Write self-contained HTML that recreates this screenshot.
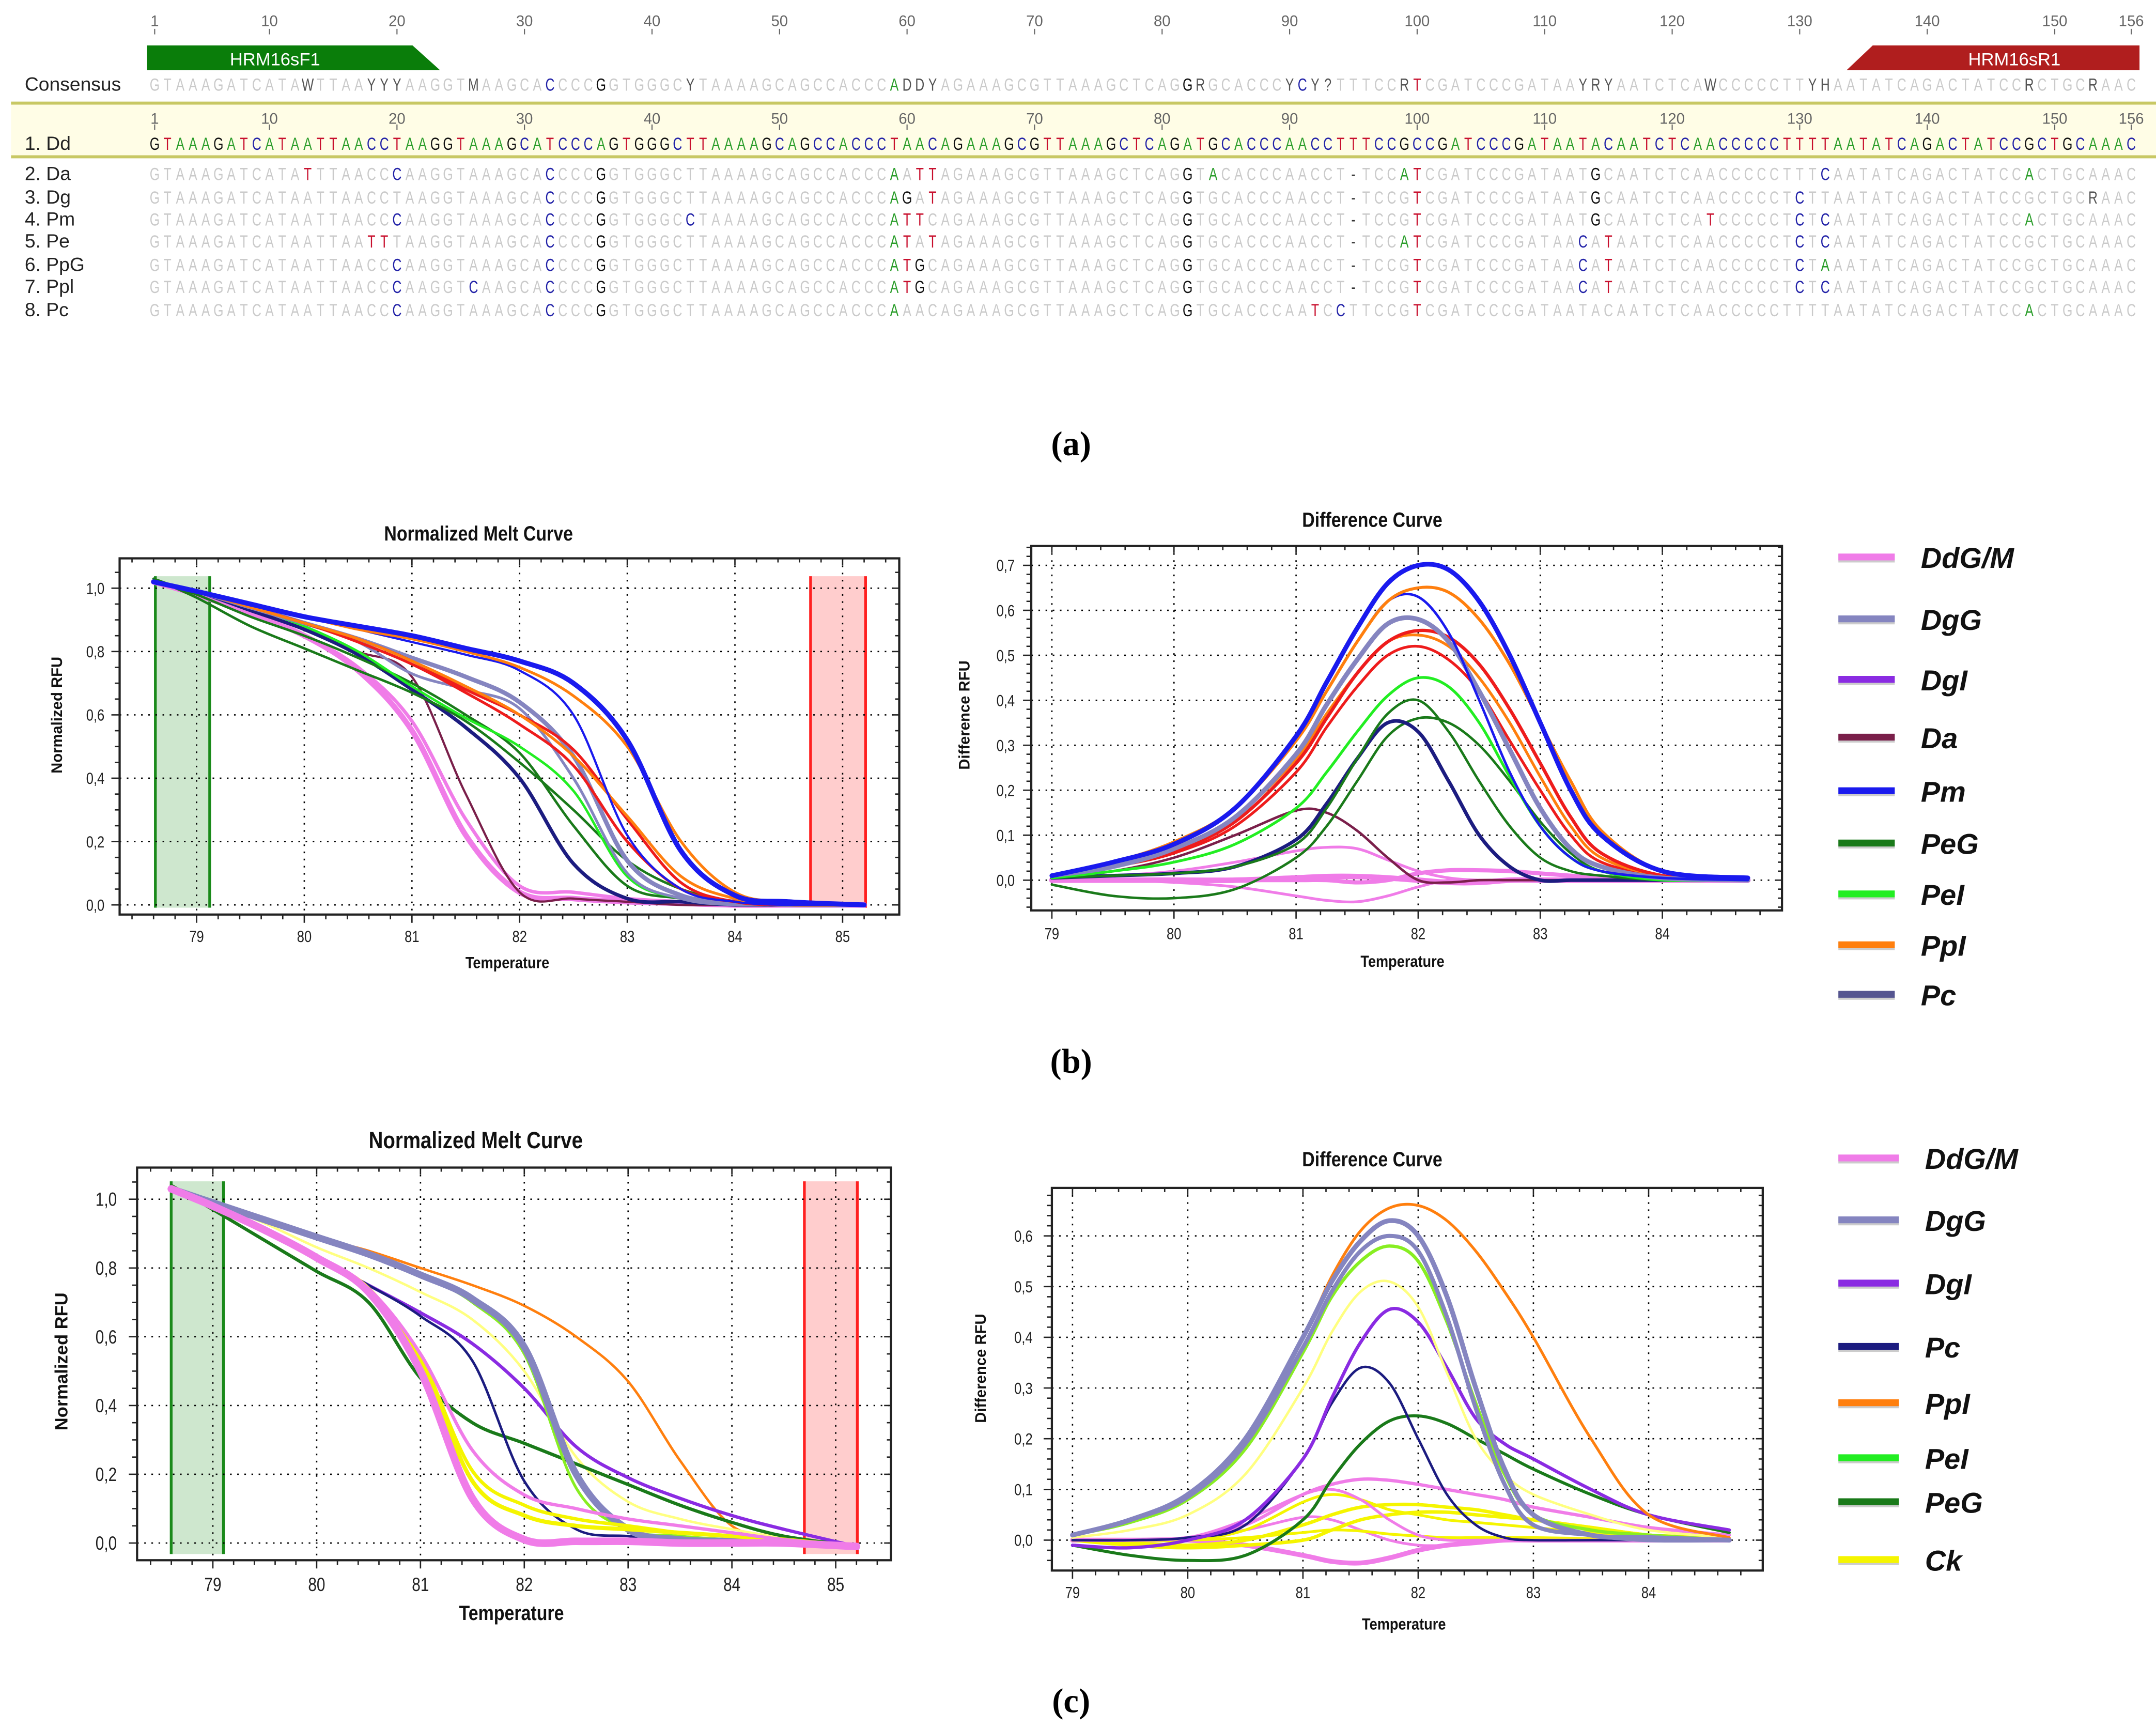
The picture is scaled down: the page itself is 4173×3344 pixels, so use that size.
<!DOCTYPE html>
<html><head><meta charset="utf-8">
<style>
html,body{margin:0;padding:0;background:#fff;}
svg{display:block;}
text{font-family:"Liberation Sans",sans-serif;}
</style></head>
<body>
<svg id="root" xmlns="http://www.w3.org/2000/svg" width="4173" height="3344" viewBox="0 0 1568 1256.5" preserveAspectRatio="none">
<rect x="0" y="0" width="1568" height="1257" fill="#fff"/>
<g id="panelA"></g>
<g id="chartB1"></g>
<g id="chartB2"></g>
<g id="chartC1"></g>
<g id="chartC2"></g>
<g id="legB"></g>
<g id="legC"></g>
<text x="779" y="331" text-anchor="middle" style="font-family:'Liberation Serif',serif;font-size:25px;font-weight:bold">(a)</text>
<text x="779" y="780" text-anchor="middle" style="font-family:'Liberation Serif',serif;font-size:25px;font-weight:bold">(b)</text>
<text x="779" y="1245" text-anchor="middle" style="font-family:'Liberation Serif',serif;font-size:25px;font-weight:bold">(c)</text>
</svg>
<script>
// ---------- Alignment data ----------
const refSeq = "GTAAAGATCATAATTAACCTAAGGTAAAGCATCCCAGTGGGCTTAAAAGCAGCCACCCTAACAGAAAGCGTTAAAGCTCAGATGCACCCAACCTTTCCGCCGATCCCGATAATACAATCTCAACCCCCTTTTAATATCAGACTATCCGCTGCAAAC";
const rulerTicks = [1,10,20,30,40,50,60,70,80,90,100,110,120,130,140,150,156];
const consensusDiffs = "13W,18Y,19Y,20Y,26M,32C,36G,43Y,59A,60D,61D,62Y,82G,83R,90Y,91C,92Y,93?,99R,100T,113Y,114R,115Y,123W,131Y,132H,148R,153R";
const rowNames = ["2. Da","3. Dg","4. Pm","5. Pe","6. PpG","7. Ppl","8. Pc"];
const rowDiffs = [
 "13T,20C,32C,36G,59A,61T,62T,82G,84A,95-,99A,100T,114G,132C,148A",
 "32C,36G,59A,60G,62T,82G,95-,100T,114G,130C,153R",
 "20C,32C,36G,43C,59A,60T,61T,82G,95-,100T,114G,123T,130C,132C,148A",
 "18T,19T,32C,36G,59A,60T,62T,82G,95-,99A,100T,113C,115T,130C,132C",
 "20C,32C,36G,59A,60T,61G,82G,95-,100T,113C,115T,130C,132A",
 "20C,26C,32C,36G,59A,60T,61G,82G,95-,100T,113C,115T,130C,132C",
 "20C,32C,36G,59A,82G,92T,94C,100T,148A"
];

// ---------- Chart b data ----------
const meltTempsB = [78.6,79,79.5,80,80.5,81,81.5,82,82.5,83,83.5,84,84.5,85.2];
const meltB_Pm1 = [1.02,0.99,0.95,0.91,0.88,0.85,0.81,0.77,0.70,0.52,0.17,0.03,0.01,0.0];
const meltB_Pm2 = [1.02,0.99,0.95,0.91,0.87,0.83,0.79,0.74,0.60,0.22,0.05,0.01,0,0];
const meltB_PpI1 = [1.02,0.99,0.95,0.91,0.87,0.84,0.80,0.75,0.66,0.50,0.20,0.04,0.01,0];
const meltB_PpI2 = [1.02,0.99,0.94,0.89,0.84,0.77,0.69,0.60,0.47,0.28,0.09,0.02,0,0];
const meltB_Red1 = [1.02,0.99,0.94,0.89,0.84,0.77,0.68,0.60,0.49,0.27,0.07,0.01,0,0];
const meltB_Red2 = [1.02,0.99,0.94,0.89,0.83,0.76,0.67,0.57,0.44,0.20,0.05,0.01,0,0];
const meltB_DgG1 = [1.02,0.99,0.94,0.89,0.84,0.78,0.72,0.64,0.47,0.14,0.03,0.01,0,0];
const meltB_DgG2 = [1.02,0.99,0.94,0.89,0.83,0.73,0.68,0.62,0.40,0.10,0.02,0,0,0];
const meltB_PeI = [1.02,0.99,0.94,0.88,0.80,0.69,0.59,0.50,0.36,0.09,0.02,0,0,0];
const meltB_PeG1 = [1.03,0.97,0.88,0.81,0.74,0.67,0.58,0.45,0.30,0.14,0.05,0.01,0,0];
const meltB_PeG2 = [1.03,0.98,0.91,0.85,0.78,0.70,0.60,0.48,0.25,0.06,0.02,0,0,0];
const meltB_Pc = [1.02,0.99,0.93,0.87,0.79,0.68,0.56,0.40,0.13,0.02,0.01,0,0,0];
const meltB_Da = [1.02,0.99,0.93,0.87,0.80,0.72,0.35,0.04,0.02,0.01,0,0,0,0];
const meltB_Pink1 = [1.02,0.98,0.92,0.85,0.74,0.55,0.22,0.04,0.02,0.01,0.005,0,0,0];
const meltB_Pink2 = [1.02,0.98,0.92,0.85,0.75,0.58,0.27,0.06,0.04,0.02,0.01,0,0,0];

const diffTempsB = [79,79.5,80,80.5,81,81.25,81.5,81.75,82,82.25,82.5,82.75,83,83.25,83.5,84,84.7];
const diffB_Pm1 = [0.01,0.04,0.08,0.16,0.32,0.44,0.56,0.66,0.70,0.69,0.62,0.50,0.35,0.20,0.10,0.02,0.005];
const diffB_Pm2 = [0.01,0.04,0.08,0.16,0.31,0.42,0.53,0.62,0.63,0.55,0.40,0.24,0.12,0.05,0.02,0.005,0];
const diffB_PpI1 = [0.01,0.04,0.085,0.16,0.31,0.42,0.53,0.62,0.65,0.64,0.58,0.48,0.35,0.22,0.11,0.02,0.005];
const diffB_PpI2 = [0.01,0.035,0.07,0.14,0.27,0.37,0.46,0.53,0.545,0.52,0.45,0.35,0.23,0.12,0.05,0.01,0];
const diffB_Red1 = [0.01,0.03,0.065,0.13,0.26,0.36,0.46,0.53,0.555,0.54,0.48,0.38,0.26,0.14,0.06,0.01,0];
const diffB_Red2 = [0.01,0.03,0.06,0.12,0.24,0.34,0.43,0.50,0.52,0.49,0.42,0.31,0.20,0.10,0.04,0.01,0];
const diffB_DgG = [0.01,0.03,0.07,0.14,0.28,0.39,0.49,0.57,0.58,0.53,0.42,0.29,0.16,0.07,0.03,0.005,0];
const diffB_PeI = [0.005,0.02,0.04,0.08,0.16,0.24,0.33,0.41,0.45,0.43,0.35,0.23,0.12,0.05,0.02,0,0];
const diffB_PeG1 = [0.005,0.01,0.015,0.03,0.08,0.16,0.27,0.37,0.40,0.33,0.22,0.12,0.05,0.02,0.01,0,0];
const diffB_PeG2 = [-0.01,-0.035,-0.04,-0.02,0.05,0.12,0.22,0.32,0.36,0.35,0.30,0.22,0.13,0.06,0.02,0,0];
const diffB_Pc = [0.005,0.01,0.015,0.03,0.09,0.17,0.27,0.35,0.33,0.22,0.10,0.03,0.0,0,0,0,0];
const diffB_Da = [0.005,0.02,0.05,0.10,0.155,0.15,0.11,0.05,0.0,-0.005,0,0,0,0,0,0,0];
const diffB_Pink1 = [0.005,0.01,0.02,0.04,0.065,0.073,0.07,0.045,0.02,0.005,0,0,0,0,0,0,0];
const diffB_Pink2 = [0,0,-0.005,-0.015,-0.035,-0.045,-0.048,-0.035,-0.015,0,0,0,0,0,0,0,0];
const diffB_Pink3 = [0,0,0,0,0,0,-0.005,0,0.015,0.022,0.022,0.02,0.015,0.01,0.005,0,0];
const diffB_Pink4 = [0,0,0,0,0.005,0.008,0.008,0.005,0,-0.005,-0.005,0,0,0,0,0,0];

// ---------- Chart c data ----------
const meltTempsC = [78.6,79,79.5,80,80.5,81,81.5,82,82.5,83,83.5,84,84.5,85.2];
const meltC_PpI = [1.03,0.99,0.94,0.89,0.85,0.80,0.75,0.69,0.60,0.47,0.24,0.05,0.02,-0.01];
const meltC_DgG = [1.03,0.99,0.94,0.89,0.84,0.78,0.71,0.57,0.20,0.04,0.01,0.005,0,-0.01];
const meltC_PeI = [1.03,0.99,0.94,0.89,0.84,0.78,0.70,0.55,0.16,0.04,0.02,0.01,0.005,-0.01];
const meltC_Ck1 = [1.03,0.99,0.93,0.86,0.80,0.73,0.65,0.50,0.25,0.12,0.07,0.04,0.015,-0.01];
const meltC_DgI = [1.03,0.98,0.91,0.83,0.75,0.67,0.58,0.45,0.28,0.19,0.13,0.08,0.04,-0.01];
const meltC_Pc = [1.03,0.98,0.91,0.83,0.75,0.66,0.53,0.18,0.04,0.02,0.01,0.005,0,-0.01];
const meltC_PeG = [1.04,0.97,0.88,0.79,0.70,0.48,0.35,0.29,0.23,0.17,0.11,0.06,0.02,-0.01];
const meltC_Pink1 = [1.03,0.98,0.91,0.83,0.73,0.50,0.13,0.01,0.005,0.005,0,0,0,-0.01];
const meltC_Pink2 = [1.03,0.98,0.91,0.83,0.74,0.55,0.27,0.14,0.10,0.07,0.05,0.03,0.01,-0.01];
const meltC_Ck2 = [1.03,0.98,0.91,0.83,0.74,0.53,0.18,0.08,0.05,0.04,0.03,0.02,0.01,-0.01];
const meltC_Ck3 = [1.03,0.98,0.91,0.83,0.74,0.54,0.21,0.11,0.07,0.05,0.03,0.02,0.01,-0.01];

const diffTempsC = [79,79.5,80,80.5,81,81.25,81.5,81.75,82,82.25,82.5,82.75,83,83.5,84,84.7];
const diffC_PpI = [0.01,0.04,0.09,0.20,0.40,0.52,0.61,0.655,0.66,0.63,0.57,0.49,0.40,0.20,0.05,0.005];
const diffC_DgG1 = [0.01,0.04,0.09,0.20,0.40,0.51,0.59,0.63,0.60,0.48,0.30,0.14,0.05,0.01,0.005,0];
const diffC_DgG2 = [0.01,0.04,0.085,0.19,0.38,0.49,0.57,0.60,0.57,0.44,0.26,0.11,0.03,0.01,0,0];
const diffC_PeI = [0.01,0.035,0.08,0.18,0.37,0.48,0.55,0.58,0.55,0.43,0.27,0.13,0.05,0.02,0.01,0];
const diffC_Ck1 = [0.005,0.02,0.05,0.13,0.30,0.41,0.49,0.51,0.46,0.33,0.20,0.13,0.09,0.05,0.02,0.005];
const diffC_DgI = [-0.01,-0.015,0.0,0.04,0.16,0.28,0.39,0.455,0.43,0.34,0.24,0.19,0.16,0.10,0.05,0.02];
const diffC_Pc = [0.0,0.0,0.005,0.03,0.16,0.27,0.34,0.31,0.20,0.09,0.03,0.005,0,0,0,0];
const diffC_PeG = [-0.01,-0.03,-0.04,-0.03,0.04,0.12,0.19,0.235,0.245,0.23,0.20,0.17,0.14,0.09,0.05,0.015];
const diffC_Pink1 = [0,0,0.005,0.03,0.09,0.11,0.12,0.118,0.11,0.10,0.09,0.08,0.065,0.045,0.025,0.01];
const diffC_Pink2 = [0,0,0.005,0.04,0.09,0.10,0.08,0.04,0.01,0,0,0,0,0,0,0];
const diffC_Pink3 = [0,0,0,-0.01,-0.03,-0.042,-0.045,-0.035,-0.02,-0.01,-0.005,0,0,0,0,0];
const diffC_Pink4 = [0,0,0.005,0.02,0.045,0.04,0.02,0.0,-0.01,-0.01,-0.005,0,0,0,0,0];
const diffC_Ck2 = [0,0,0,0.02,0.075,0.09,0.08,0.06,0.05,0.04,0.035,0.03,0.025,0.015,0.01,0.005];
const diffC_Ck3 = [0,-0.005,-0.01,0,0.03,0.05,0.065,0.07,0.07,0.065,0.06,0.05,0.04,0.025,0.01,0];
const diffC_Ck4 = [0,-0.01,-0.015,-0.01,0.0,0.02,0.04,0.05,0.055,0.055,0.05,0.045,0.04,0.025,0.01,0];
const diffC_Ck5 = [0,0,0,0.005,0.015,0.02,0.018,0.012,0.008,0.005,0.005,0.005,0.005,0.003,0,0];

const legendLabelsB = ["DdG/M","DgG","DgI","Da","Pm","PeG","PeI","PpI","Pc"];
const legendLabelsC = ["DdG/M","DgG","DgI","Pc","PpI","PeI","PeG","Ck"];

// ---------- helpers ----------
const NS = "http://www.w3.org/2000/svg";
const COL = {pink:"#f07ce8",dgg:"#8585c0",dgi:"#8a2be2",da:"#7a1f4a",pm:"#1a1aee",peg:"#1a7a1a",pei:"#22ee22",ppi:"#ff7f0e",pc:"#1c1c80",red:"#ee1c1c",ck:"#f5f500",ckl:"#ffff80"};
function mk(tag, attrs, parent){
  const e = document.createElementNS(NS, tag);
  for (const k in attrs) e.setAttribute(k, attrs[k]);
  parent.appendChild(e);
  return e;
}
function smoothPath(pts){
  let d = "M" + pts[0][0].toFixed(2) + "," + pts[0][1].toFixed(2);
  for (let i=0;i<pts.length-1;i++){
    const p0 = pts[i-1]||pts[i], p1 = pts[i], p2 = pts[i+1], p3 = pts[i+2]||p2;
    const c1x = p1[0]+(p2[0]-p0[0])/6, c1y = p1[1]+(p2[1]-p0[1])/6;
    const c2x = p2[0]-(p3[0]-p1[0])/6, c2y = p2[1]-(p3[1]-p1[1])/6;
    d += " C"+c1x.toFixed(2)+","+c1y.toFixed(2)+" "+c2x.toFixed(2)+","+c2y.toFixed(2)+" "+p2[0].toFixed(2)+","+p2[1].toFixed(2);
  }
  return d;
}

// ---------- alignment ----------
(function(){
  const g = document.getElementById("panelA");
  const x0 = 112.5, dx = (1550-112.5)/155;
  const px = i => x0 + (i-1)*dx;
  const baseCol = {A:"#2a9d2a",T:"#c8102e",C:"#2323a8",G:"#111"};
  function ruler(yNum, yT){
    rulerTicks.forEach(n=>{
      const t = mk("text",{x:px(n),y:yNum,"text-anchor":"middle","font-size":"11",fill:"#666"},g);
      t.textContent = n;
      
      
      mk("line",{x1:px(n),x2:px(n),y1:yT,y2:yT+4,stroke:"#666","stroke-width":"0.8"},g);
    });
  }
  ruler(19, 21);
  // primers
  const pf = mk("polygon",{points:"107,33 300,33 320,51 107,51",fill:"#0a7d0a"},g);
  
  
  const pft = mk("text",{x:200,y:47.5,"text-anchor":"middle","font-size":"13",fill:"#fff"},g);
  pft.textContent = "HRM16sF1";
  const pr = mk("polygon",{points:"1362,33 1556,33 1556,51 1343,51",fill:"#b01e1e"},g);
  
  
  const prt = mk("text",{x:1465,y:47.5,"text-anchor":"middle","font-size":"13",fill:"#fff"},g);
  prt.textContent = "HRM16sR1";
  // highlight band
  const band = mk("rect",{x:8,y:75,width:1560,height:39,fill:"#fffde6"},g);
  
  
  mk("line",{x1:8,x2:1568,y1:75,y2:75,stroke:"#c8c864","stroke-width":"2.2"},g);
  mk("line",{x1:8,x2:1568,y1:114,y2:114,stroke:"#c8c864","stroke-width":"2.2"},g);
  ruler(90, 90.5);
  function parseDiffs(s){ const m={}; s.split(",").forEach(t=>{m[parseInt(t)]=t.replace(/^\d+/,"");}); return m; }
  function row(label, y, diffs, mode){
    const lab = mk("text",{x:18,y:y,"font-size":"14",fill:"#222"},g);
    lab.textContent = label;
    
    
    let grey = "", greyX = [];
    for (let i=1;i<=refSeq.length;i++){
      let ch = refSeq[i-1], col = "#cacaca";
      if (mode==="ref"){ col = baseCol[ch]; }
      else if (diffs[i]!==undefined){ ch = diffs[i]; col = baseCol[ch] || "#555"; if (ch==="-") col="#333"; }
      const t = mk("text",{x:px(i).toFixed(2),y:y,"text-anchor":"middle","font-size":"13",fill:col,transform:"translate("+px(i).toFixed(2)+","+y+") scale(0.72,1) translate("+(-px(i)).toFixed(2)+","+(-y)+")"},g);
      t.textContent = ch;
    }
  }
  row("Consensus", 66, parseDiffs(consensusDiffs), "cons");
  row("1. Dd", 109, {}, "ref");
  const ys = [131,148,164,180,197,213,230];
  rowNames.forEach((n,k)=>row(n, ys[k], parseDiffs(rowDiffs[k]), "row"));
})();

// ---------- chart builder ----------
function chart(id, cfg){
  const g = document.getElementById(id);
  const X = t => cfg.x0 + (t - cfg.t0) * cfg.pxPerDeg;
  const Y = v => cfg.yZero - v * cfg.pxPerUnit;
  const L = cfg.frame[0], T = cfg.frame[1], R = cfg.frame[2], B = cfg.frame[3];
  // bands
  if (cfg.bands){
    cfg.bands.forEach(b=>{
      const r = mk("rect",{x:b.x1,y:b.y1,width:b.x2-b.x1,height:b.y2-b.y1,fill:b.fill},g);
      
      
      mk("line",{x1:b.x1,x2:b.x1,y1:b.y1,y2:b.y2,stroke:b.stroke,"stroke-width":"2"},g);
      mk("line",{x1:b.x2,x2:b.x2,y1:b.y1,y2:b.y2,stroke:b.stroke,"stroke-width":"2"},g);
    });
  }
  // grid
  cfg.xTicks.forEach(t=>{
    const l = mk("line",{x1:X(t),x2:X(t),y1:T,y2:B,stroke:"#000","stroke-width":"1","stroke-dasharray":"1.2,4"},g);
    
    
  });
  cfg.yTicks.forEach(v=>{
    const l = mk("line",{x1:L,x2:R,y1:Y(v),y2:Y(v),stroke:"#000","stroke-width":"1","stroke-dasharray":"1.2,4"},g);
    
    
  });
  // series
  cfg.series.forEach(s=>{
    const pts = s.v.map((v,i)=>[X(s.t[i]), Y(v)]);
    const p = mk("path",{d:smoothPath(pts),fill:"none",stroke:s.c,"stroke-width":s.w||1.8,"stroke-linejoin":"round","stroke-linecap":"round"},g);
    
    
  });
  // frame
  const fr = mk("rect",{x:L,y:T,width:R-L,height:B-T,fill:"none",stroke:"#222","stroke-width":"1.6"},g);
  
  
  // minor ticks
  for (let t=Math.ceil((cfg.t0-1)*5)/5; X(t)<R; t+=0.2){
    if (X(t)<=L) continue;
    const major = Math.abs(t-Math.round(t))<0.01;
    const len = major?6:3.5;
    mk("line",{x1:X(t),x2:X(t),y1:B,y2:B+len,stroke:"#222","stroke-width":"1"},g);
    mk("line",{x1:X(t),x2:X(t),y1:T,y2:T+(major?5:3),stroke:"#222","stroke-width":"1"},g);
  }
  for (let v=-0.1; Y(v)>T; v+=cfg.yMinor){
    if (Y(v)>=B) continue;
    const major = cfg.yTicks.some(k=>Math.abs(k-v)<1e-6);
    mk("line",{x1:L-(major?6:3.5),x2:L,y1:Y(v),y2:Y(v),stroke:"#222","stroke-width":"1"},g);
    mk("line",{x1:R-(major?5:3),x2:R,y1:Y(v),y2:Y(v),stroke:"#222","stroke-width":"1"},g);
  }
  // tick labels
  cfg.xTicks.forEach(t=>{
    const tx = mk("text",{x:X(t),y:cfg.xLabY,"text-anchor":"middle","font-size":cfg.fs,fill:"#222",transform:"translate("+X(t)+","+cfg.xLabY+") scale(0.8,1) translate("+(-X(t))+","+(-cfg.xLabY)+")"},g);
    tx.textContent = t;
    
    
  });
  cfg.yTicks.forEach(v=>{
    const ty = Y(v)+cfg.fs*0.35;
    const tx = mk("text",{x:cfg.yLabX,y:ty,"text-anchor":"end","font-size":cfg.fs,fill:"#222",transform:"translate("+cfg.yLabX+","+ty+") scale(0.8,1) translate("+(-cfg.yLabX)+","+(-ty)+")"},g);
    tx.textContent = v.toFixed(1).replace(".",",");
    
    
  });
  // titles
  const tt = mk("text",{x:cfg.title[1],y:cfg.title[2],"text-anchor":"middle","font-size":cfg.title[3],"font-weight":"bold",fill:"#111",transform:"translate("+cfg.title[1]+","+cfg.title[2]+") scale(0.85,1) translate("+(-cfg.title[1])+","+(-cfg.title[2])+")"},g);
  tt.textContent = cfg.title[0];
  
  
  const xt = mk("text",{x:cfg.xTitle[0],y:cfg.xTitle[1],"text-anchor":"middle","font-size":cfg.xTitle[2],"font-weight":"bold",fill:"#111",transform:"translate("+cfg.xTitle[0]+","+cfg.xTitle[1]+") scale(0.85,1) translate("+(-cfg.xTitle[0])+","+(-cfg.xTitle[1])+")"},g);
  xt.textContent = "Temperature";
  
  
  const yt = mk("text",{x:0,y:0,"text-anchor":"middle","font-size":cfg.yTitle[3],"font-weight":"bold",fill:"#111",transform:"translate("+cfg.yTitle[1]+","+cfg.yTitle[2]+") rotate(-90)"},g);
  yt.textContent = cfg.yTitle[0];
  
  
}

// ---------- chart b ----------
chart("chartB1",{
  frame:[87,406,654,665], x0:143, t0:79, pxPerDeg:78.3, yZero:658, pxPerUnit:230.3,
  xTicks:[79,80,81,82,83,84,85], yTicks:[0,0.2,0.4,0.6,0.8,1.0], yMinor:0.05,
  xLabY:685, yLabX:76, fs:12,
  title:["Normalized Melt Curve",348,393,15], xTitle:[369,704,12], yTitle:["Normalized RFU",45,520,11],
  bands:[{x1:113,x2:152.5,y1:419,y2:660,fill:"rgba(60,160,60,0.25)",stroke:"#1a8a1a",name:"start-region"},
         {x1:589.5,x2:629.5,y1:419,y2:660,fill:"rgba(255,90,90,0.3)",stroke:"#ff2020",name:"end-region"}],
  series:[
    {name:"melt-pink-1",t:meltTempsB,v:meltB_Pink1,c:COL.pink,w:4},
    {name:"melt-pink-2",t:meltTempsB,v:meltB_Pink2,c:COL.pink,w:2.5},
    {name:"melt-da",t:meltTempsB,v:meltB_Da,c:COL.da,w:1.6},
    {name:"melt-pc",t:meltTempsB,v:meltB_Pc,c:COL.pc,w:2.6},
    {name:"melt-peg-1",t:meltTempsB,v:meltB_PeG1,c:COL.peg,w:1.8},
    {name:"melt-peg-2",t:meltTempsB,v:meltB_PeG2,c:COL.peg,w:1.8},
    {name:"melt-pei",t:meltTempsB,v:meltB_PeI,c:COL.pei,w:1.8},
    {name:"melt-dgg-1",t:meltTempsB,v:meltB_DgG1,c:COL.dgg,w:3.2},
    {name:"melt-dgg-2",t:meltTempsB,v:meltB_DgG2,c:COL.dgg,w:2},
    {name:"melt-red-1",t:meltTempsB,v:meltB_Red1,c:COL.red,w:2},
    {name:"melt-red-2",t:meltTempsB,v:meltB_Red2,c:COL.red,w:2},
    {name:"melt-ppi-2",t:meltTempsB,v:meltB_PpI2,c:COL.ppi,w:2},
    {name:"melt-pm-2",t:meltTempsB,v:meltB_Pm2,c:COL.pm,w:1.6},
    {name:"melt-ppi-1",t:meltTempsB,v:meltB_PpI1,c:COL.ppi,w:2},
    {name:"melt-pm-1",t:meltTempsB,v:meltB_Pm1,c:COL.pm,w:3.6}
  ]
});
chart("chartB2",{
  frame:[750,397,1296,662], x0:765, t0:79, pxPerDeg:88.8, yZero:640, pxPerUnit:327,
  xTicks:[79,80,81,82,83,84], yTicks:[0,0.1,0.2,0.3,0.4,0.5,0.6,0.7], yMinor:0.02,
  xLabY:683, yLabX:738, fs:12,
  title:["Difference Curve",998,383,15], xTitle:[1020,703,12], yTitle:["Difference RFU",705,520,11],
  series:[
    {name:"diff-pink-2",t:diffTempsB,v:diffB_Pink2,c:COL.pink,w:2},
    {name:"diff-pink-3",t:diffTempsB,v:diffB_Pink3,c:COL.pink,w:3},
    {name:"diff-pink-4",t:diffTempsB,v:diffB_Pink4,c:COL.pink,w:4},
    {name:"diff-pink-1",t:diffTempsB,v:diffB_Pink1,c:COL.pink,w:2},
    {name:"diff-da",t:diffTempsB,v:diffB_Da,c:COL.da,w:1.8},
    {name:"diff-peg-2",t:diffTempsB,v:diffB_PeG2,c:COL.peg,w:1.8},
    {name:"diff-pc",t:diffTempsB,v:diffB_Pc,c:COL.pc,w:2.6},
    {name:"diff-peg-1",t:diffTempsB,v:diffB_PeG1,c:COL.peg,w:1.8},
    {name:"diff-pei",t:diffTempsB,v:diffB_PeI,c:COL.pei,w:2},
    {name:"diff-red-2",t:diffTempsB,v:diffB_Red2,c:COL.red,w:2},
    {name:"diff-ppi-2",t:diffTempsB,v:diffB_PpI2,c:COL.ppi,w:2},
    {name:"diff-red-1",t:diffTempsB,v:diffB_Red1,c:COL.red,w:2.4},
    {name:"diff-dgg",t:diffTempsB,v:diffB_DgG,c:COL.dgg,w:3.4},
    {name:"diff-pm-2",t:diffTempsB,v:diffB_Pm2,c:COL.pm,w:1.8},
    {name:"diff-ppi-1",t:diffTempsB,v:diffB_PpI1,c:COL.ppi,w:2.2},
    {name:"diff-pm-1",t:diffTempsB,v:diffB_Pm1,c:COL.pm,w:3.4}
  ]
});

// ---------- chart c ----------
chart("chartC1",{
  frame:[99.7,849,648,1134.5], x0:154.8, t0:79, pxPerDeg:75.5, yZero:1122, pxPerUnit:250,
  xTicks:[79,80,81,82,83,84,85], yTicks:[0,0.2,0.4,0.6,0.8,1.0], yMinor:0.05,
  xLabY:1157, yLabX:85, fs:14,
  title:["Normalized Melt Curve",346,835,17], xTitle:[372,1178,15], yTitle:["Normalized RFU",49,990,13],
  bands:[{x1:124.5,x2:162.5,y1:859,y2:1130,fill:"rgba(60,160,60,0.25)",stroke:"#1a8a1a",name:"start-region"},
         {x1:585,x2:623.5,y1:859,y2:1130,fill:"rgba(255,90,90,0.3)",stroke:"#ff2020",name:"end-region"}],
  series:[
    {name:"melt-ppi",t:meltTempsC,v:meltC_PpI,c:COL.ppi,w:1.8},
    {name:"melt-ck-1",t:meltTempsC,v:meltC_Ck1,c:COL.ckl,w:1.8},
    {name:"melt-dgi",t:meltTempsC,v:meltC_DgI,c:COL.dgi,w:2.4},
    {name:"melt-peg",t:meltTempsC,v:meltC_PeG,c:COL.peg,w:2.4},
    {name:"melt-pc",t:meltTempsC,v:meltC_Pc,c:COL.pc,w:1.8},
    {name:"melt-pei",t:meltTempsC,v:meltC_PeI,c:"#88ee22",w:2},
    {name:"melt-dgg",t:meltTempsC,v:meltC_DgG,c:COL.dgg,w:5},
    {name:"melt-ck-2",t:meltTempsC,v:meltC_Ck2,c:COL.ck,w:3},
    {name:"melt-ck-3",t:meltTempsC,v:meltC_Ck3,c:COL.ck,w:2.5},
    {name:"melt-pink-2",t:meltTempsC,v:meltC_Pink2,c:COL.pink,w:2.4},
    {name:"melt-pink-1",t:meltTempsC,v:meltC_Pink1,c:COL.pink,w:5.5}
  ]
});
chart("chartC2",{
  frame:[765,863.8,1282,1142], x0:780, t0:79, pxPerDeg:83.8, yZero:1119.9, pxPerUnit:368.7,
  xTicks:[79,80,81,82,83,84], yTicks:[0,0.1,0.2,0.3,0.4,0.5,0.6], yMinor:0.02,
  xLabY:1162, yLabX:751, fs:12,
  title:["Difference Curve",998,848,15], xTitle:[1021,1185,12], yTitle:["Difference RFU",717,995,11],
  series:[
    {name:"diff-pink-3",t:diffTempsC,v:diffC_Pink3,c:COL.pink,w:3.5},
    {name:"diff-pink-4",t:diffTempsC,v:diffC_Pink4,c:COL.pink,w:2},
    {name:"diff-ck-5",t:diffTempsC,v:diffC_Ck5,c:COL.ck,w:2},
    {name:"diff-ck-4",t:diffTempsC,v:diffC_Ck4,c:COL.ck,w:2.5},
    {name:"diff-ck-3",t:diffTempsC,v:diffC_Ck3,c:COL.ck,w:2.5},
    {name:"diff-ck-2",t:diffTempsC,v:diffC_Ck2,c:COL.ck,w:2},
    {name:"diff-pink-2",t:diffTempsC,v:diffC_Pink2,c:COL.pink,w:2},
    {name:"diff-pink-1",t:diffTempsC,v:diffC_Pink1,c:COL.pink,w:2.4},
    {name:"diff-peg",t:diffTempsC,v:diffC_PeG,c:COL.peg,w:2.2},
    {name:"diff-pc",t:diffTempsC,v:diffC_Pc,c:COL.pc,w:1.8},
    {name:"diff-dgi",t:diffTempsC,v:diffC_DgI,c:COL.dgi,w:2.4},
    {name:"diff-ck-1",t:diffTempsC,v:diffC_Ck1,c:COL.ckl,w:1.8},
    {name:"diff-ppi",t:diffTempsC,v:diffC_PpI,c:COL.ppi,w:2},
    {name:"diff-pei",t:diffTempsC,v:diffC_PeI,c:"#88ee22",w:2.4},
    {name:"diff-dgg-2",t:diffTempsC,v:diffC_DgG2,c:COL.dgg,w:3},
    {name:"diff-dgg-1",t:diffTempsC,v:diffC_DgG1,c:COL.dgg,w:3.5}
  ]
});

// ---------- legends ----------
function legend(id, labels, colors, ys, x1, x2, tx){
  const g = document.getElementById(id);
  labels.forEach((lab,i)=>{
    mk("line",{x1:x1,x2:x2,y1:ys[i]+1,y2:ys[i]+1,stroke:"#ccc","stroke-width":"6"},g);
    const l = mk("line",{x1:x1,x2:x2,y1:ys[i],y2:ys[i],stroke:colors[i],"stroke-width":"5"},g);
    
    
    const t = mk("text",{x:tx,y:ys[i]+8,"font-size":"21","font-weight":"bold","font-style":"italic",fill:"#111"},g);
    t.textContent = lab;
    
    
  });
}
legend("legB", legendLabelsB, [COL.pink,COL.dgg,COL.dgi,COL.da,COL.pm,COL.peg,COL.pei,COL.ppi,"#555590"], [405,450,494,536,575,613,650,687,723], 1337, 1378, 1397);
legend("legC", legendLabelsC, [COL.pink,COL.dgg,COL.dgi,COL.pc,COL.ppi,COL.pei,COL.peg,COL.ck], [842,887,933,979,1020,1060,1092,1134], 1337, 1381, 1400);
</script>
</body></html>
